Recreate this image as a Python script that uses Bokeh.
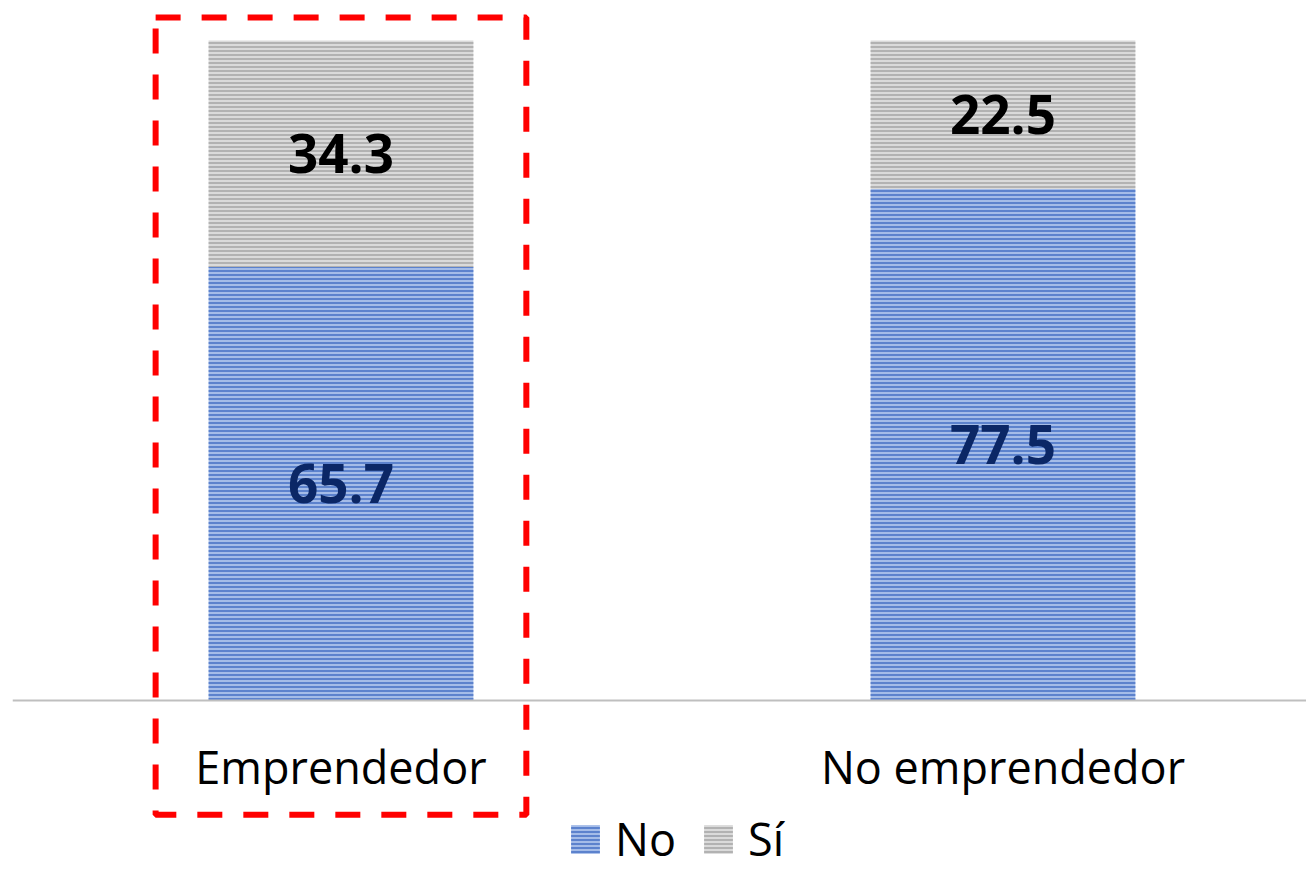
from bokeh.plotting import figure
from bokeh.models import ColumnDataSource, Range1d, LinearAxis, FixedTicker, Legend
from bokeh.core.properties import value
from bokeh.embed import file_html
from bokeh.resources import INLINE

categories = ["Emprendedor", "No emprendedor"]
series_names = ["No", "Sí"]
no_values = [65.7, 77.5]
si_values = [34.3, 22.5]

FONT = "Open Sans"
BAR_W = 0.4
idx = list(range(len(categories)))

src = ColumnDataSource(dict(
    x=idx, No=no_values, Sí=si_values,
    no_mid=[v / 2 for v in no_values],
    si_mid=[n + s / 2 for n, s in zip(no_values, si_values)],
    no_lab=[f"{v:.1f}" for v in no_values],
    si_lab=[f"{v:.1f}" for v in si_values],
))

p = figure(width=1306, height=872, output_backend="svg", toolbar_location=None,
           x_range=Range1d(-0.4962, 1.4585), y_range=Range1d(-26.06, 104.85),
           x_axis_location=None, y_axis_location=None,
           min_border_left=12, min_border_right=0, min_border_top=8, min_border_bottom=0)
p.outline_line_color = None
p.xgrid.visible = False
p.ygrid.visible = False
p.background_fill_color = "white"
p.border_fill_color = "white"

rs = p.vbar_stack(series_names, x="x", width=BAR_W, source=src,
                  fill_color=["#A4BCE8", "#DADADA"], line_color=None,
                  hatch_pattern="horizontal_line", hatch_scale=4, hatch_weight=1.6,
                  hatch_color=["#4A74C6", "#A8A8A8"])

p.text(x="x", y="no_mid", text="no_lab", source=src, text_font=value(FONT),
       text_font_style="bold", text_font_size="53px", text_color="#0B2766",
       text_align="center", text_baseline="middle")
p.text(x="x", y="si_mid", text="si_lab", source=src, text_font=value(FONT),
       text_font_style="bold", text_font_size="53px", text_color="#000000",
       text_align="center", text_baseline="middle")

# highlight box around first category
PAD_X = 0.08
p.quad(left=[idx[0] - BAR_W / 2 - PAD_X], right=[idx[0] + BAR_W / 2 + PAD_X],
       top=[103.5], bottom=[-17.3], fill_color=None, line_color="#FF0000",
       line_width=6, line_dash="25 21")

ax = LinearAxis(fixed_location=0)
ax.ticker = FixedTicker(ticks=idx, minor_ticks=[])
ax.major_label_overrides = {i: c for i, c in zip(idx, categories)}
ax.axis_line_color = "#BFBFBF"
ax.axis_line_width = 2
ax.major_tick_line_color = None
ax.minor_tick_line_color = None
ax.major_tick_out = 0
ax.major_tick_in = 0
ax.major_label_standoff = 35
ax.major_label_text_font = FONT
ax.major_label_text_font_size = "45px"
ax.major_label_text_color = "#000000"
p.add_layout(ax, "below")

legend = Legend(items=[(series_names[0], [rs[0]]), (series_names[1], [rs[1]])],
                orientation="horizontal", location=(555, 3),
                border_line_color=None, background_fill_alpha=0,
                label_text_font=FONT, label_text_font_size="45px",
                label_text_color="#000000",
                glyph_width=36, glyph_height=36, label_standoff=12, spacing=24,
                padding=0, margin=0, label_text_baseline="middle")
p.add_layout(legend)

open("out.html", "w").write(file_html(p, INLINE))
